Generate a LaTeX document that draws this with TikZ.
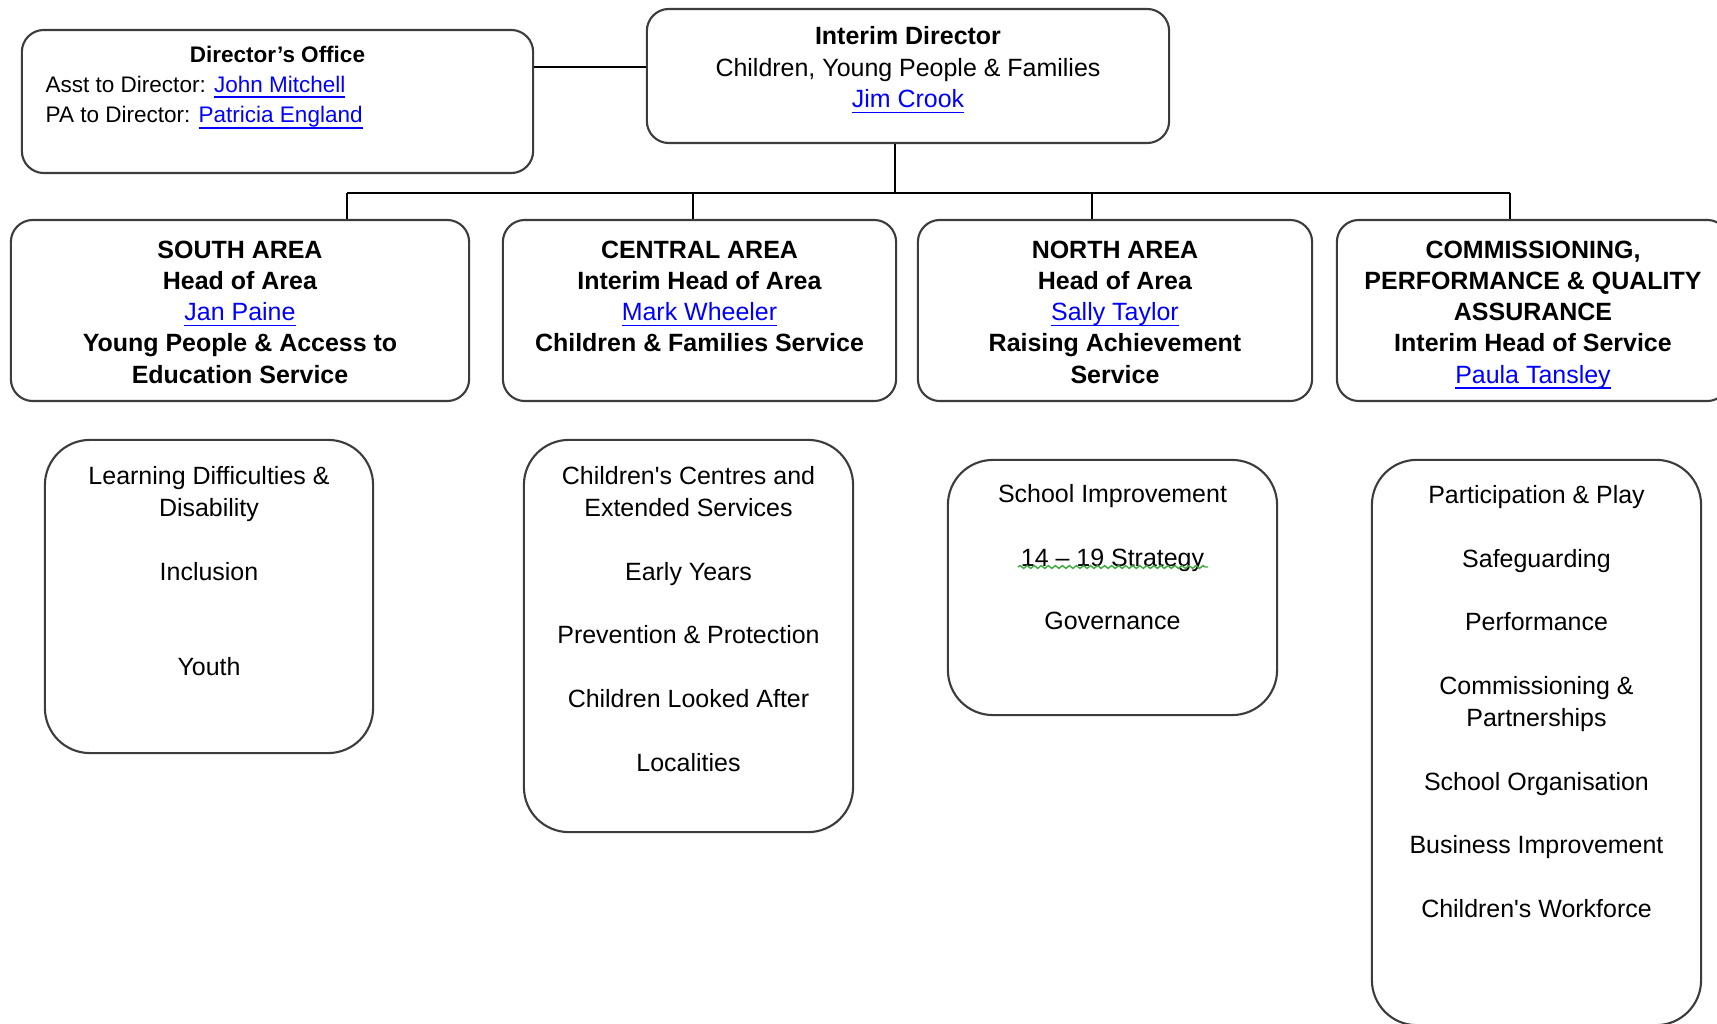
\documentclass[tikz,border=0pt]{standalone}
\usepackage{fontspec}
\setmainfont{Liberation Sans}
\usetikzlibrary{positioning}
\usetikzlibrary{decorations.pathmorphing}
\definecolor{linkblue}{RGB}{0,0,255}
\definecolor{boxline}{RGB}{60,60,60}
\definecolor{spellgreen}{RGB}{60,170,60}
\newcommand{\lnk}[1]{\textcolor{linkblue}{\underline{\smash{#1}}}}
\newcommand{\gap}{\\[9.05pt]}

\begin{document}
\begin{tikzpicture}[x=0.01cm, y=-0.01cm,
    box/.style={draw=boxline, line width=0.6pt, rounded corners=0.22cm, inner sep=0pt},
    listbox/.style={box, rounded corners=0.45cm},
    boxtext/.style={align=center, inner sep=0pt, font=\fontsize{7.1pt}{8.9pt}\selectfont},
    listtext/.style={boxtext, font=\fontsize{7.1pt}{9.05pt}\selectfont},
    smalltext/.style={inner sep=0pt, font=\fontsize{6.4pt}{8.8pt}\selectfont},
    link/.style={line width=0.5pt}]
    \useasboundingbox (0,0) rectangle (1717,1024);
    \clip (0,0) rectangle (1717,1024);

    \node[box, minimum width=5.11cm, minimum height=1.43cm] (office) at (277.5,101.5) {};
    \node[box, minimum width=5.22cm, minimum height=1.34cm] (interim) at (908,76) {};
    \node[box, minimum width=4.58cm, minimum height=1.81cm] (south) at (240,310.5) {};
    \node[box, minimum width=3.93cm, minimum height=1.81cm] (central) at (699.5,310.5) {};
    \node[box, minimum width=3.94cm, minimum height=1.81cm] (north) at (1115,310.5) {};
    \node[box, minimum width=3.92cm, minimum height=1.81cm] (commission) at (1533,310.5) {};
    \node[listbox, minimum width=3.28cm, minimum height=3.13cm] (southlist) at (209,596.5) {};
    \node[listbox, minimum width=3.29cm, minimum height=3.92cm] (centrallist) at (688.5,636) {};
    \node[listbox, minimum width=3.29cm, minimum height=2.55cm] (northlist) at (1112.5,587.5) {};
    \node[listbox, minimum width=3.29cm, minimum height=5.65cm] (commissionlist) at (1536.5,742.5) {};

    \node[smalltext, font=\fontsize{6.4pt}{8.8pt}\selectfont\bfseries, below=0.17cm of office.north] (officetitle) {Director's Office};
    \node[smalltext, align=left, anchor=north west] (officestaff) at (45,75) {Asst to Director: \lnk{John Mitchell}\\PA to Director: \lnk{Patricia England}};
    \node[boxtext, below=0.18cm of interim.north] (interimtxt) {\textbf{Interim Director}\\Children, Young People \& Families\\\lnk{Jim Crook}};

    \node[boxtext, below=0.21cm of south.north] (southtxt) {\textbf{SOUTH AREA}\\\textbf{Head of Area}\\\lnk{Jan Paine}\\\textbf{Young People \& Access to}\\\textbf{Education Service}};
    \node[boxtext, below=0.21cm of central.north] (centraltxt) {\textbf{CENTRAL AREA}\\\textbf{Interim Head of Area}\\\lnk{Mark Wheeler}\\\textbf{Children \& Families Service}};
    \node[boxtext, below=0.21cm of north.north] (northtxt) {\textbf{NORTH AREA}\\\textbf{Head of Area}\\\lnk{Sally Taylor}\\\textbf{Raising Achievement}\\\textbf{Service}};
    \node[boxtext, below=0.21cm of commission.north] (commissiontxt) {\textbf{COMMISSIONING,}\\\textbf{PERFORMANCE \& QUALITY}\\\textbf{ASSURANCE}\\\textbf{Interim Head of Service}\\\lnk{Paula Tansley}};

    \node[listtext, below=0.27cm of southlist.north] (southitems) {Learning Difficulties \&\\Disability\gap Inclusion\\[18.1pt]Youth};
    \node[listtext, below=0.27cm of centrallist.north] (centralitems) {Children\textquotesingle s Centres and\\Extended Services\gap Early Years\gap Prevention \& Protection\gap Children Looked After\gap Localities};
    \node[listtext, below=0.25cm of northlist.north] (northitems) {School Improvement\gap 14 -- 19 Strategy\gap Governance};
    \node[listtext, below=0.26cm of commissionlist.north] (commissionitems) {Participation \& Play\gap Safeguarding\gap Performance\gap Commissioning \&\\Partnerships\gap School Organisation\gap Business Improvement\gap Children\textquotesingle s Workforce};

    \coordinate (tie) at (590,67);
    \coordinate (stem) at (895,193);
    \coordinate (dropS) at (347,193);
    \coordinate (dropC) at (693,193);
    \coordinate (dropN) at (1092,193);
    \coordinate (dropQ) at (1510,193);
    \draw[link] (office.east |- tie) -- (interim.west |- tie);
    \draw[link] (interim.south -| stem) -- (stem);
    \draw[link] (dropS) -- (dropQ);
    \foreach \d/\b in {dropS/south, dropC/central, dropN/north, dropQ/commission}
        \draw[link] (\d) -- (\b.north -| \d);

    \draw[spellgreen, line width=0.4pt, decorate, decoration={snake, amplitude=0.4pt, segment length=2pt}] (1018,567) -- (1208,567);
\end{tikzpicture}
\end{document}
